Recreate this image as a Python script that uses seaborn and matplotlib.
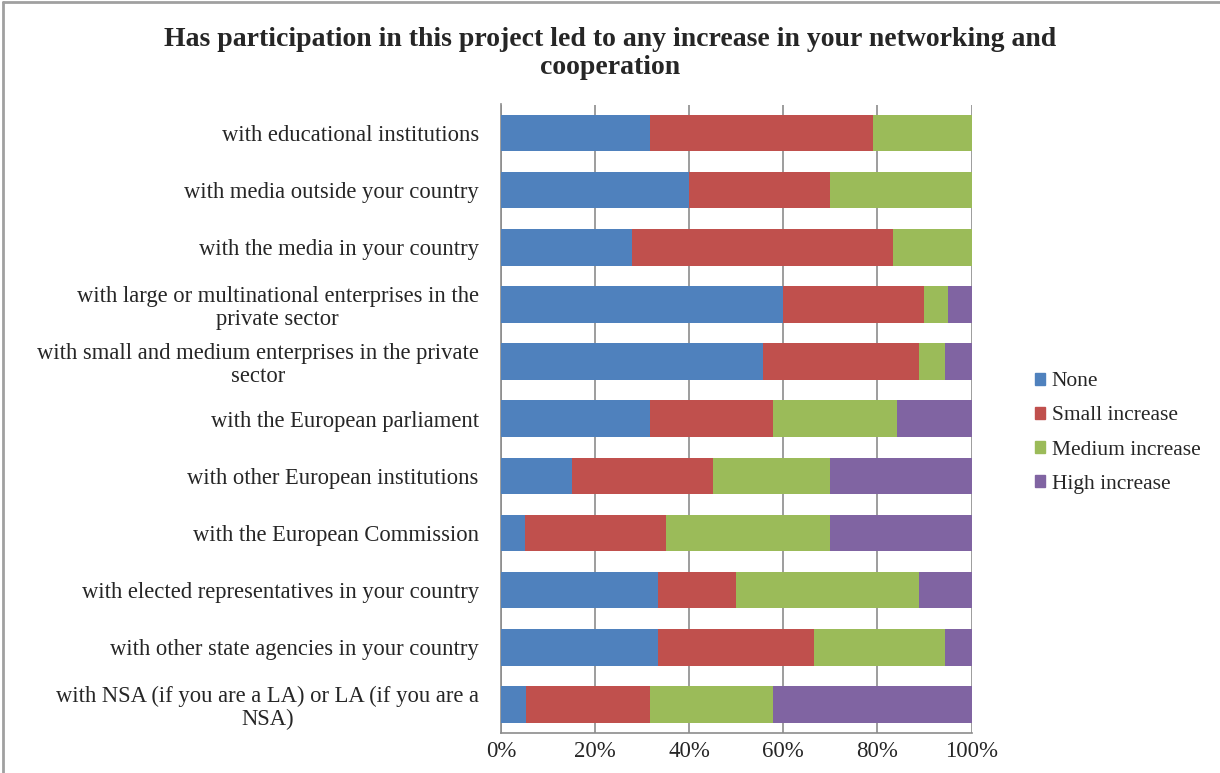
import numpy as np
import pandas as pd
import seaborn as sns
import matplotlib.pyplot as plt
from matplotlib.lines import Line2D

categories = [
    "with educational institutions",
    "with media outside your country",
    "with the media in your country",
    "with large or multinational enterprises in the\nprivate sector",
    "with small and medium enterprises in the private\nsector",
    "with the European parliament",
    "with other European institutions",
    "with the European Commission",
    "with elected representatives in your country",
    "with other state agencies in your country",
    "with NSA (if you are a LA) or LA (if you are a\nNSA)",
]
none_pct = [31.6, 40.0, 27.8, 60.0, 55.6, 31.6, 15.0, 5.0, 33.3, 33.3, 5.3]
small_pct = [47.4, 30.0, 55.6, 30.0, 33.3, 26.3, 30.0, 30.0, 16.7, 33.3, 26.3]
medium_pct = [21.0, 30.0, 16.6, 5.0, 5.5, 26.3, 25.0, 35.0, 38.9, 27.8, 26.3]
high_pct = [0.0, 0.0, 0.0, 5.0, 5.6, 15.8, 30.0, 30.0, 11.1, 5.6, 42.1]

series = ["None", "Small increase", "Medium increase", "High increase"]
colors = ["#4F81BD", "#C0504D", "#9BBB59", "#8064A2"]

df = pd.DataFrame({
    "category": categories,
    "None": none_pct,
    "Small increase": small_pct,
    "Medium increase": medium_pct,
    "High increase": high_pct,
})
# cumulative sums for stacking
cum = df[series].cumsum(axis=1)
cum["category"] = df["category"]

sns.set_style("white")
plt.rcParams['font.family'] = ['Liberation Serif', 'DejaVu Serif']

fig = plt.figure(figsize=(12.2, 7.73), dpi=100)
ax = fig.add_axes([501 / 1220, 1 - 733 / 773, 470.5 / 1220, (733 - 104.5) / 773])

# draw from the outermost (total) back to the first segment
for name, col in reversed(list(zip(series, colors))):
    sns.barplot(data=cum, x=name, y="category", orient="h", color=col,
                width=0.64, ax=ax, saturation=1, linewidth=0, zorder=3)

ax.set_xlim(0, 100)
ax.set_xticks(np.arange(0, 101, 20))
ax.set_xticklabels([f"{t}%" for t in range(0, 101, 20)], fontsize=16.5)
ax.set_xlabel("")
ax.set_ylabel("")
for lab in ax.get_yticklabels():
    lab.set_multialignment("center")
    lab.set_linespacing(1.1)
    lab.set_fontsize(16.3)
ax.tick_params(axis="y", length=0, pad=16)
ax.tick_params(axis="x", length=0, pad=6)
ax.grid(axis="x", color="#8c8c8c", linewidth=1.2, zorder=0)
ax.set_axisbelow(True)
for s in ["top", "right"]:
    ax.spines[s].set_visible(False)
for s in ["left", "bottom"]:
    ax.spines[s].set_color("#8c8c8c")
    ax.spines[s].set_linewidth(1.2)

handles = [plt.Rectangle((0, 0), 1, 1, color=c) for c in colors]
fig.legend(handles, series, loc="center left", bbox_to_anchor=(1016 / 1220, 1 - 433 / 773),
           frameon=False, fontsize=15.5, handlelength=0.45, handleheight=0.45,
           handletextpad=0.3, labelspacing=0.7)

fig.text(0.5, 1 - 40 / 773, "Has participation in this project led to any increase in your networking and",
         ha="center", va="center", fontsize=20, fontweight="bold")
fig.text(0.5, 1 - 68 / 773, "cooperation", ha="center", va="center", fontsize=20, fontweight="bold")

# outer frame lines (left and top)
fig.add_artist(Line2D([3 / 1220, 3 / 1220], [0, 1 - 2 / 773], color="#a0a0a0", linewidth=2))
fig.add_artist(Line2D([3 / 1220, 1], [1 - 2 / 773, 1 - 2 / 773], color="#a0a0a0", linewidth=2))

fig.savefig("out.png", dpi=100)
